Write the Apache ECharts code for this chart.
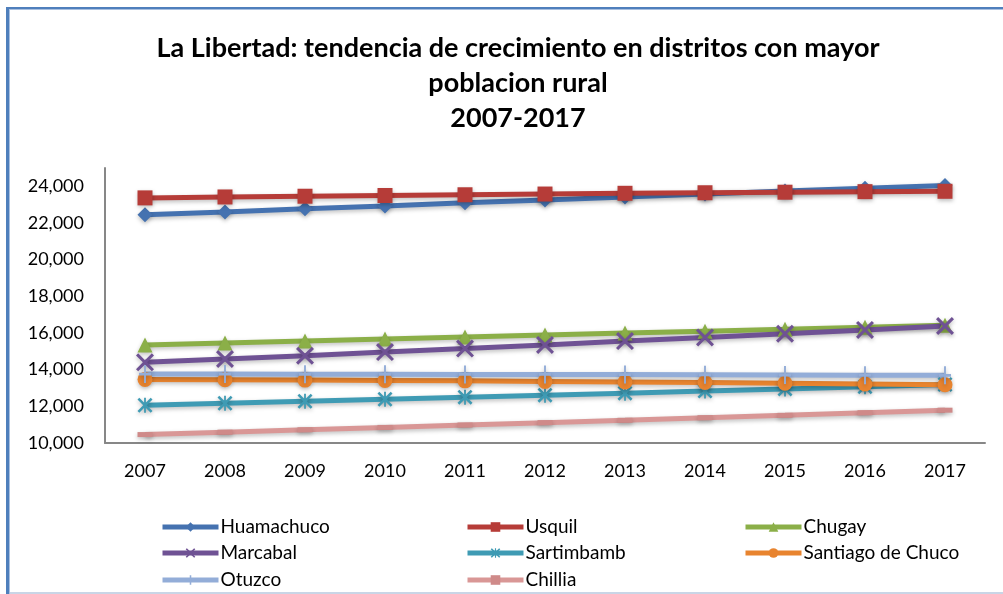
<!DOCTYPE html>
<html><head><meta charset="utf-8">
<script src="https://cdn.jsdelivr.net/npm/echarts@6/dist/echarts.min.js"></script>
<style>html,body{margin:0;padding:0;background:#fff}#c{width:1003px;height:594px}</style>
</head><body><div id="c"></div>
<script>
const years = ['2007','2008','2009','2010','2011','2012','2013','2014','2015','2016','2017'];
const names = ['Huamachuco','Usquil','Chugay','Marcabal','Sartimbamb','Santiago de Chuco','Otuzco','Chillia'];
const huamachuco = [22450,22600,22780,22930,23100,23250,23420,23580,23740,23900,24050];
const usquil     = [23370,23420,23460,23500,23540,23580,23620,23650,23680,23710,23730];
const chugay     = [15340,15450,15560,15670,15780,15890,16000,16100,16200,16320,16420];
const marcabal   = [14400,14580,14760,14960,15150,15350,15560,15760,15960,16170,16380];
const sartimbamb = [12060,12170,12280,12390,12500,12610,12720,12830,12950,13070,13190];
const santiago   = [13470,13450,13430,13410,13390,13360,13330,13300,13260,13220,13180];
const otuzco     = [13760,13760,13750,13750,13740,13740,13730,13720,13710,13700,13690];
const chillia    = [10460,10590,10720,10850,10980,11110,11240,11380,11510,11650,11790];
const yTicks = [10000,12000,14000,16000,18000,20000,22000,24000];

const values = [huamachuco,usquil,chugay,marcabal,sartimbamb,santiago,otuzco,chillia];
const colors = ['#4572B0','#B63C38','#8BAF48','#6F5294','#3F9BB4','#E8842F','#93ADD8','#D99796'];
const X = 'path://M0,1.2L1.2,0L5,3.8L8.8,0L10,1.2L6.2,5L10,8.8L8.8,10L5,6.2L1.2,10L0,8.8L3.8,5Z';
const AST = 'path://M0,1.2L1.2,0L5,3.8L8.8,0L10,1.2L6.2,5L10,8.8L8.8,10L5,6.2L1.2,10L0,8.8L3.8,5Z M4.4,0L5.6,0L5.6,10L4.4,10Z';
const PLUS = 'path://M4.2,0L5.8,0L5.8,10L4.2,10Z M0,4.2L10,4.2L10,5.8L0,5.8Z';
const symbols = ['diamond','rect','triangle',X,AST,'circle',PLUS,'rect'];
const sizes = [15,15,15,18,15,15,[12,18],[15,5]];
const font = 'Lato, "Open Sans", sans-serif';

const series = names.map((n,i)=>({
  name:n, type:'line', data:values[i], symbol:symbols[i], symbolSize:sizes[i],
  showAllSymbol:true,
  lineStyle:{width:5,color:colors[i],shadowColor:'rgba(0,0,0,0.25)',shadowBlur:4,shadowOffsetY:2},
  itemStyle:{color:i===7?'#CF8A89':colors[i],shadowColor:'rgba(0,0,0,0.25)',shadowBlur:4,shadowOffsetY:2},
  emphasis:{disabled:true}, animation:false
}));

// legend layout: 3 columns x 3 rows
const colLeft = [160, 465, 743];
const rowCenter = [526, 552, 579];
const legends = names.map((n,i)=>{
  const col = i % 3, row = Math.floor(i / 3);
  return {
    data:[n], left:colLeft[col], top:rowCenter[row]-10, padding:0,
    itemWidth:56, itemHeight:12, itemGap:0,
    lineStyle:{width:5},
    itemStyle:{shadowBlur:0},
    textStyle:{fontFamily:font,fontSize:19,color:'#000',padding:[0,0,0,-3],lineHeight:22}
  };
});

const chart = echarts.init(document.getElementById('c'),null,{renderer:'canvas'});
chart.setOption({
  backgroundColor:'#fff',
  animation:false,
  title:{text:'La Libertad: tendencia de crecimiento en distritos con mayor\npoblacion rural\n2007-2017',
    left:513, top:26, textAlign:'center',
    textStyle:{fontFamily:font,fontSize:27,fontWeight:'bold',color:'#000',lineHeight:35}},
  grid:{left:105,right:18,top:168,bottom:151},
  xAxis:{type:'category',data:years,boundaryGap:true,
    axisLine:{lineStyle:{color:'#878787',width:2}},axisTick:{show:false},
    axisLabel:{fontFamily:font,fontSize:18,color:'#000',margin:19}},
  yAxis:{type:'value',min:10000,max:25000,interval:2000,
    axisLine:{show:true,lineStyle:{color:'#878787',width:2}},axisTick:{show:false},splitLine:{show:false},
    axisLabel:{fontFamily:font,fontSize:18,color:'#000',margin:21,
      formatter:v=>yTicks.includes(v)?v.toLocaleString('en-US'):''}},
  legend:legends,
  series:series,
  graphic:[
    {type:'rect',shape:{x:6,y:7,width:3,height:594},style:{fill:'#4F7FBC'},silent:true},
    {type:'rect',shape:{x:9,y:9,width:1,height:594},style:{fill:'#A9C0E0'},silent:true},
    {type:'rect',shape:{x:6,y:7,width:1003,height:2},style:{fill:'#4F7FBC'},silent:true},
    {type:'rect',shape:{x:9,y:9,width:1003,height:1},style:{fill:'#A9C0E0'},silent:true},
    {type:'rect',shape:{x:10,y:592,width:1003,height:2},style:{fill:'#C9D5E6'},silent:true}
  ]
});
</script></body></html>
